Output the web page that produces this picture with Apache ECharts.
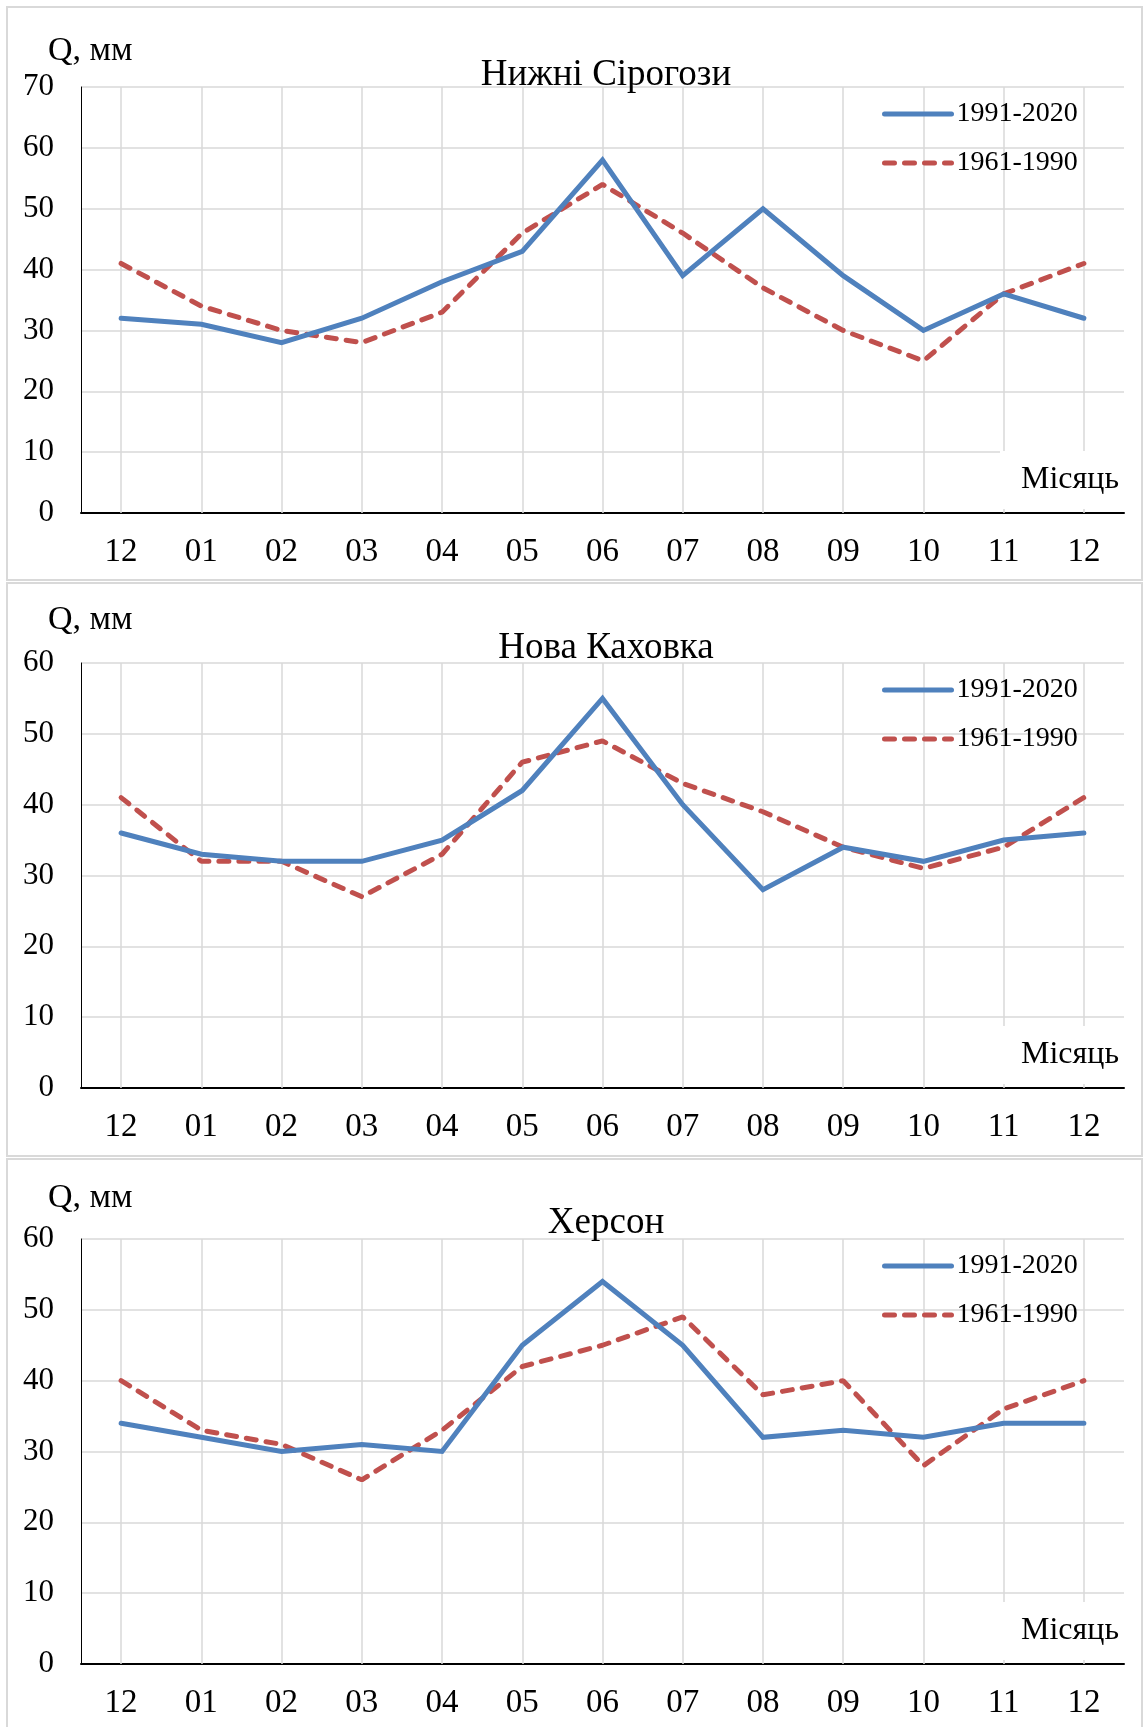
<!DOCTYPE html>
<html><head><meta charset="utf-8">
<script src="https://cdn.jsdelivr.net/npm/echarts@6/dist/echarts.min.js"></script>
<style>html,body{margin:0;padding:0;background:#fff}#c{width:1145px;height:1727px}</style>
</head><body><div id="c"></div>
<script>
// ---- data ----
const months = ['12','01','02','03','04','05','06','07','08','09','10','11','12'];
const stationNames = ['Нижні Сірогози','Нова Каховка','Херсон'];
const seriesNames = ['1991-2020','1961-1990'];
const sirogozy1991 = [32,31,28,32,38,43,58,39,50,39,30,36,32];
const sirogozy1961 = [41,34,30,28,33,46,54,46,37,30,25,36,41];
const kakhovka1991 = [36,33,32,32,35,42,55,40,28,34,32,35,36];
const kakhovka1961 = [41,32,32,27,33,46,49,43,39,34,31,34,41];
const kherson1991 = [34,32,30,31,30,45,54,45,32,33,32,34,34];
const kherson1961 = [40,33,31,26,33,42,45,49,38,40,28,36,40];
const yMax = [70,60,60];
const yInterval = 10;
const yAxisTitle = 'Q, мм';
const xAxisTitle = 'Місяць';

// ---- layout / style ----
const FONT = '"Liberation Serif","Times New Roman",serif';
const BLUE = '#4F81BD', RED = '#C0504D', GRID = '#d9d9d9';
const panelTop = [7, 583, 1159];
const panelH = [573, 573, 575];
const gridTop = panelTop.map(v => v + 80);
const gridH = [426, 425, 425];
const qOffset = [36, 43, 41];
const titleOffset = [12, 15, 16];
const gridLeft = 81, gridRight = 21;
const values = [[sirogozy1991, sirogozy1961],[kakhovka1991, kakhovka1961],[kherson1991, kherson1961]];

const grids = [], xAxes = [], yAxes = [], series = [], legends = [], graphics = [];
for (let p = 0; p < 3; p++) {
  const top = gridTop[p], bottom = top + gridH[p];
  grids.push({left: gridLeft, right: gridRight, top: top, height: gridH[p], containLabel: false});
  xAxes.push({
    type: 'category', gridIndex: p, data: months, boundaryGap: true,
    axisLine: {show: true, lineStyle: {color: '#000', width: 2}},
    axisTick: {show: false},
    axisLabel: {color: '#000', fontFamily: FONT, fontSize: 33, margin: 23},
    splitLine: {show: false}
  });
  yAxes.push({
    type: 'value', gridIndex: p, min: 0, max: yMax[p], interval: yInterval,
    axisLine: {show: true, lineStyle: {color: '#000', width: 1}},
    axisTick: {show: false},
    axisLabel: {color: '#000', fontFamily: FONT, fontSize: 31, margin: 27},
    splitLine: {show: true, lineStyle: {color: GRID, width: 1.5}}
  });
  series.push({
    name: seriesNames[0], type: 'line', xAxisIndex: p, yAxisIndex: p,
    data: values[p][0], symbol: 'none', z: 3,
    lineStyle: {color: BLUE, width: 5, cap: 'round', join: 'miter'},
    itemStyle: {color: BLUE},
    markLine: {
      silent: true, symbol: 'none', z: 1, animation: false,
      label: {show: false},
      lineStyle: {color: GRID, width: 1.5, type: 'solid'},
      emphasis: {disabled: true},
      data: months.map((m, i) => ({xAxis: i}))
    }
  });
  series.push({
    name: seriesNames[1], type: 'line', xAxisIndex: p, yAxisIndex: p,
    data: values[p][1], symbol: 'none', z: 2,
    lineStyle: {color: RED, width: 5, type: [10, 10], cap: 'round'},
    itemStyle: {color: RED}
  });
  legends.push({
    orient: 'vertical', left: 882, top: top + 13, padding: 0,
    itemWidth: 67, itemHeight: 14, itemGap: 21, selectedMode: false,
    data: seriesNames,
    itemStyle: {opacity: 0},
    lineStyle: {width: 5, cap: 'round'},
    textStyle: {color: '#000', fontFamily: FONT, fontSize: 28, lineHeight: 28}
  });
  graphics.push(
    {type: 'rect', z: -1, silent: true, shape: {x: 7, y: panelTop[p], width: 1135, height: panelH[p]},
     style: {fill: 'none', stroke: GRID, lineWidth: 2}},
    {type: 'text', z: 20, silent: true, x: 48, y: top - qOffset[p],
     style: {text: yAxisTitle, font: '34px ' + FONT, fill: '#000', textAlign: 'left', textVerticalAlign: 'middle'}},
    {type: 'text', z: 20, silent: true, x: 606, y: top - titleOffset[p],
     style: {text: stationNames[p], font: '37px ' + FONT, fill: '#000', textAlign: 'center', textVerticalAlign: 'middle'}},
    {type: 'rect', z: 10, silent: true, shape: {x: 1000, y: bottom - 62, width: 126, height: 58},
     style: {fill: '#fff', stroke: 'none'}},
    {type: 'text', z: 20, silent: true, x: 1070, y: bottom - 33,
     style: {text: xAxisTitle, font: '32px ' + FONT, fill: '#000', textAlign: 'center', textVerticalAlign: 'middle'}}
  );
}

const chart = echarts.init(document.getElementById('c'), null, {renderer: 'canvas'});
chart.setOption({
  animation: false,
  backgroundColor: '#fff',
  grid: grids, xAxis: xAxes, yAxis: yAxes, series: series, legend: legends,
  graphic: {elements: graphics}
});
</script>
</body></html>
